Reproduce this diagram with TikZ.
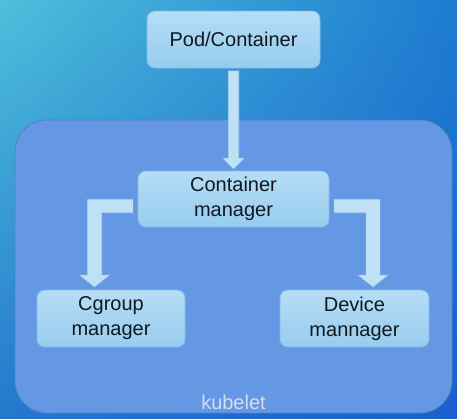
\documentclass[tikz,border=0pt]{standalone}
\usepackage{fontspec}
\setmainfont{Liberation Sans}
\usetikzlibrary{calc,shadings}
\definecolor{bgA}{HTML}{4EBFDB}
\definecolor{bgB}{HTML}{1D7CD0}
\definecolor{bgC}{HTML}{2378CD}
\definecolor{bgD}{HTML}{1A5FCC}
\definecolor{kubefill}{HTML}{6598E4}
\definecolor{kubeline}{HTML}{4F7FCC}
\definecolor{boxtop}{HTML}{B6DDF5}
\definecolor{boxbot}{HTML}{97CCEF}
\definecolor{boxline}{HTML}{82BDE8}
\definecolor{arrowfill}{HTML}{BEE1F6}
\definecolor{arrowline}{HTML}{6E9FD8}
\definecolor{textcol}{HTML}{101820}
\definecolor{labelcol}{HTML}{D6DBEE}
\begin{document}
\begin{tikzpicture}[x=1pt,y=-1pt,
	box/.style={rectangle,rounded corners=8pt,draw=boxline,line width=0.8pt,
		top color=boxtop,bottom color=boxbot,align=center,inner sep=0pt,
		minimum height=57pt,font=\fontsize{20}{25}\selectfont,text=textcol},
	kubebox/.style={rectangle,rounded corners=32pt,fill=kubefill,draw=kubeline,
		line width=0.8pt,minimum width=437pt,minimum height=293pt},
	blockarrow/.style={fill=arrowfill,draw=arrowline,line width=0.8pt}]
\useasboundingbox (0,0) rectangle (457,418);
\shade[upper left=bgA,upper right=bgB,lower left=bgC,lower right=bgD]
	(0,0) rectangle (457,418);
\node[kubebox] (kubelet) at (233.5,266.5) {};
\node[font=\fontsize{20}{25}\selectfont,text=labelcol,anchor=base] (kubeletlabel)
	at (233.5,409) {kubelet};
\node[box,minimum width=173pt] (pod) at (233.5,39.5) {Pod/Container};
\node[box,minimum width=191pt,minimum height=56pt] (cm) at (233.5,199) {Container\\manager};
\node[box,minimum width=148pt] (cgroup) at (111,318.5) {Cgroup\\manager};
\node[box,minimum width=149pt] (device) at (354.5,318.5) {Device\\mannager};
% straight arrow
\draw[blockarrow] let \p1=([yshift=-2pt]pod.south), \p2=([yshift=1pt]cm.north) in
	(\x1-5.5pt,\y1) -- (\x1-5.5pt,\y2+12pt) -- (\x1-12pt,\y2+12pt) -- (\x2,\y2)
	-- (\x1+12pt,\y2+12pt) -- (\x1+5.5pt,\y2+12pt) -- (\x1+5.5pt,\y1) -- cycle;
% elbow arrows
\draw[blockarrow] let \p1=([shift={(-4pt,-7pt)}]cm.west), \p2=([shift={(-16.5pt,2pt)}]cgroup.north) in
	(\x1,\y1+7pt) -- (\x2-7.5pt,\y1+7pt) -- (\x2-7.5pt,\y2+13pt) -- (\x2-16.5pt,\y2+13pt)
	-- (\x2,\y2) -- (\x2+16.5pt,\y2+13pt) -- (\x2+7.5pt,\y2+13pt) -- (\x2+7.5pt,\y1-7pt)
	-- (\x1,\y1-7pt) -- cycle;
\draw[blockarrow] let \p1=([shift={(4pt,-7pt)}]cm.east), \p2=([shift={(18.5pt,2pt)}]device.north) in
	(\x1,\y1+7pt) -- (\x2+7.5pt,\y1+7pt) -- (\x2+7.5pt,\y2+13pt) -- (\x2+16.5pt,\y2+13pt)
	-- (\x2,\y2) -- (\x2-16.5pt,\y2+13pt) -- (\x2-7.5pt,\y2+13pt) -- (\x2-7.5pt,\y1-7pt)
	-- (\x1,\y1-7pt) -- cycle;
\end{tikzpicture}
\end{document}
